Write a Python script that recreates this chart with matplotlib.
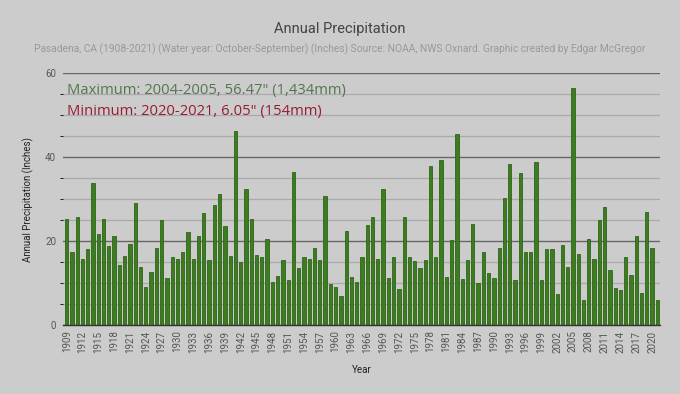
import numpy as np
import matplotlib
matplotlib.use("Agg")
import matplotlib.pyplot as plt
from matplotlib.ticker import MultipleLocator

# water years 1908-09 .. 2020-21, labelled by ending year
years = list(range(1909, 2022))
precip = [
    25.2, 17.5, 25.6, 15.8, 18.0, 33.7, 21.7, 25.3, 18.7, 21.3,
    14.2, 16.5, 19.4, 29.1, 13.7, 9.0, 12.6, 18.4, 24.9, 11.2,
    16.1, 15.6, 17.3, 22.2, 15.8, 21.1, 26.7, 15.4, 28.6, 31.2,
    23.6, 16.4, 46.2, 14.9, 32.5, 25.2, 16.6, 16.3, 20.4, 10.2,
    11.6, 15.5, 10.7, 36.5, 13.6, 16.3, 15.8, 18.4, 15.4, 30.6,
    9.8, 9.1, 7.0, 22.5, 11.5, 10.2, 16.1, 23.9, 25.8, 15.8,
    32.5, 11.1, 16.1, 8.5, 25.6, 16.3, 15.2, 13.6, 15.4, 37.9,
    16.3, 39.4, 11.4, 20.3, 45.5, 11.0, 15.4, 24.0, 9.9, 17.5,
    12.3, 11.1, 18.3, 30.2, 38.3, 10.8, 36.3, 17.5, 17.3, 38.8,
    10.7, 18.1, 18.1, 7.5, 19.1, 13.8, 56.47, 16.8, 6.0, 20.4,
    15.8, 25.0, 28.1, 13.2, 8.7, 8.4, 16.1, 12.0, 21.1, 7.7,
    27.0, 18.4, 6.05,
]
tick_years = years[::3]

title = "Annual Precipitation"
subtitle = ("Pasadena, CA (1908-2021) (Water year: October-September) (Inches) "
            "Source: NOAA, NWS Oxnard. Graphic created by Edgar McGregor")
max_note = 'Maximum: 2004-2005, 56.47" (1,434mm)'
min_note = 'Minimum: 2020-2021, 6.05" (154mm)'

bg = "#cccccc"
plt.rcParams["font.family"] = ["Roboto", "DejaVu Sans"]

fig = plt.figure(figsize=(6.8, 3.94), dpi=100, facecolor=bg)
ax = fig.add_axes([0.0926, 0.1751, 0.878, 0.6396], facecolor=bg)

ax.bar(years, precip, width=0.62, color="#3c7d1f", edgecolor="#2f6418",
       linewidth=0.6, zorder=3)

ax.set_xlim(1908.3, 2021.5)
ax.set_ylim(0, 60)
ax.yaxis.set_major_locator(MultipleLocator(20))
ax.yaxis.set_minor_locator(MultipleLocator(5))
ax.grid(which="major", axis="y", color="#666666", linewidth=1.0, zorder=1)
ax.grid(which="minor", axis="y", color="#aaaaaa", linewidth=0.9, zorder=1)
ax.set_xticks(tick_years)
ax.set_xticklabels([str(y) for y in tick_years], rotation=90)
ax.tick_params(axis="both", length=0, labelsize=7, colors="#555555")
ax.tick_params(axis="x", pad=4)
ax.tick_params(axis="y", pad=5)
for s in ["top", "right", "left"]:
    ax.spines[s].set_visible(False)
ax.spines["bottom"].set_color("#333333")
ax.spines["bottom"].set_linewidth(1.0)
ax.spines["bottom"].set_zorder(4)

ax.set_ylabel("Annual Precipitation (Inches)", fontsize=7, color="#222222", labelpad=8)
ax.set_xlabel("Year", fontsize=7, color="#222222", labelpad=9)

fig.text(0.5, 0.926, title, ha="center", va="center", fontsize=10.5, color="#444444")
fig.text(0.5, 0.876, subtitle, ha="center", va="center", fontsize=7.35, color="#999999")

ax.text(0.006, 0.93, max_note, transform=ax.transAxes, ha="left", va="center",
        fontsize=10.6, color="#52774d", family=["Open Sans", "DejaVu Sans"])
ax.text(0.006, 0.847, min_note, transform=ax.transAxes, ha="left", va="center",
        fontsize=10.6, color="#9a1a32", family=["Open Sans", "DejaVu Sans"])

fig.savefig("out.png", dpi=100, facecolor=bg)
